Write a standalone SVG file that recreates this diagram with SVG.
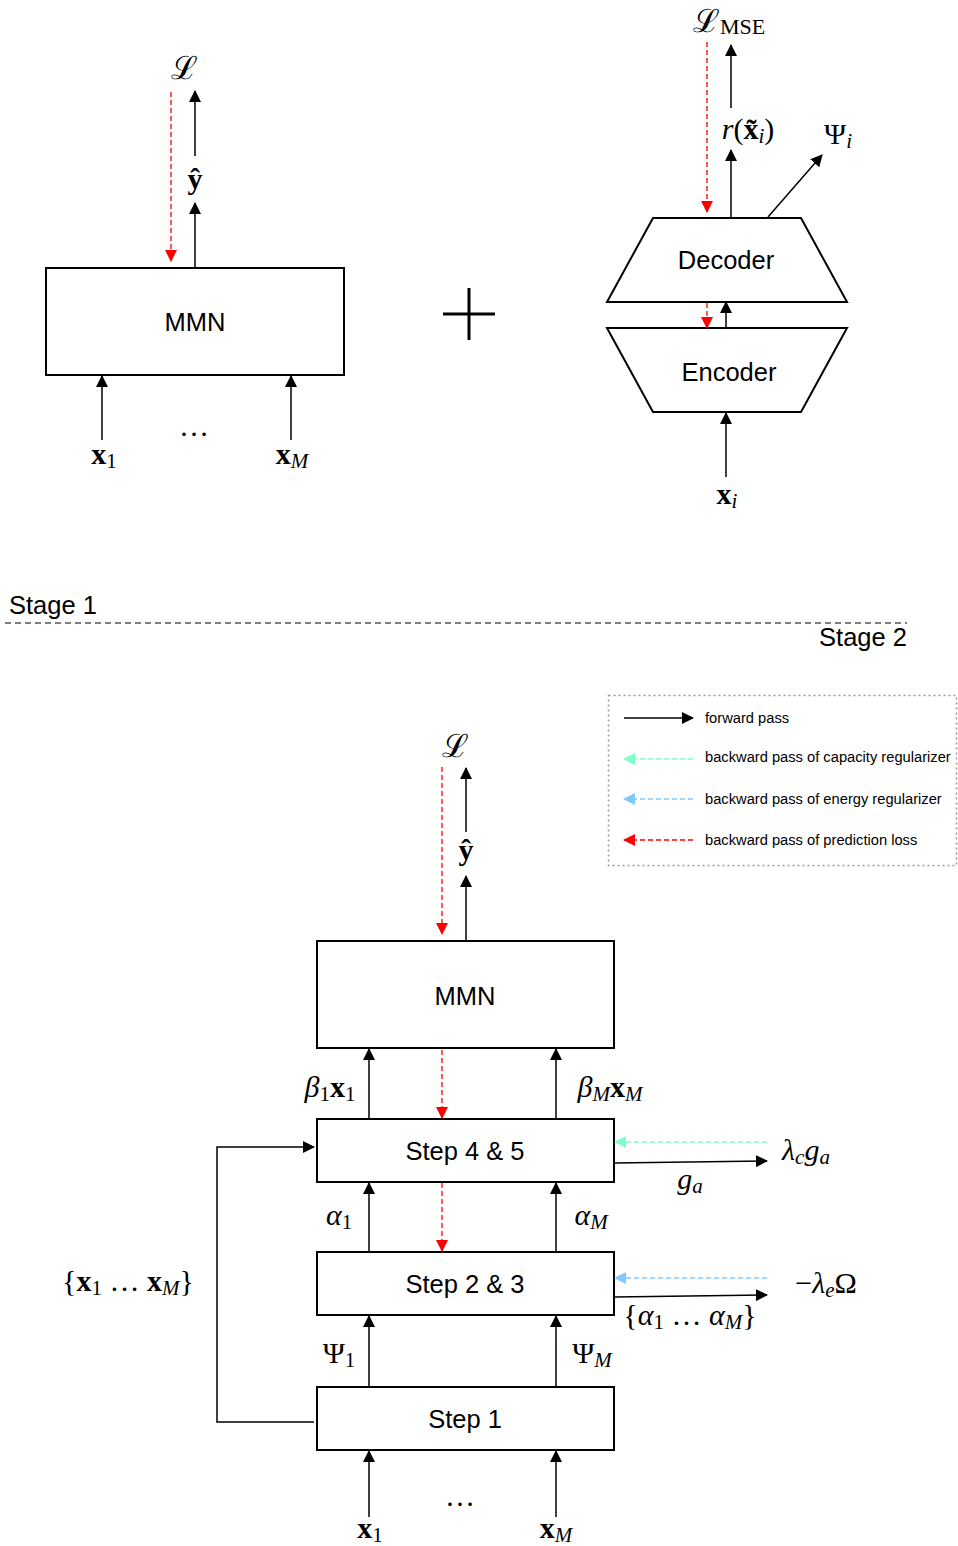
<svg xmlns="http://www.w3.org/2000/svg" width="958" height="1546" viewBox="0 0 958 1546">
<style>
.box{fill:#fff;stroke:#000;stroke-width:2}
.lbl{font-family:"Liberation Sans",Arial,sans-serif;font-size:25.5px;fill:#000}
.math{font-family:"Liberation Serif","DejaVu Serif",serif;font-size:30px;fill:#000}
.sub{font-size:21px}
.it{font-style:italic}
.bf{font-weight:bold}
.cal{font-family:"DejaVu Serif","Liberation Serif",serif;font-style:normal;font-size:32px}
.fw{stroke:#000;stroke-width:1.5;fill:none}
.red{stroke:#ff0000;stroke-width:1.3;stroke-dasharray:5,3;fill:none}
.teal{stroke:#80ffc8;stroke-width:1.3;stroke-dasharray:5,3;fill:none}
.blue{stroke:#80c8ff;stroke-width:1.3;stroke-dasharray:5,3;fill:none}
.leg{font-family:"Liberation Sans",Arial,sans-serif;font-size:14.7px;fill:#000}
</style>
<defs>
<marker id="ab" markerUnits="userSpaceOnUse" markerWidth="12" markerHeight="12" viewBox="0 0 12 12" refX="11" refY="6" orient="auto"><path d="M0,0 L12,6 L0,12 z" fill="#000"/></marker>
<marker id="ar" markerUnits="userSpaceOnUse" markerWidth="12" markerHeight="12" viewBox="0 0 12 12" refX="11" refY="6" orient="auto"><path d="M0,0 L12,6 L0,12 z" fill="#ff0000"/></marker>
<marker id="at" markerUnits="userSpaceOnUse" markerWidth="12" markerHeight="12" viewBox="0 0 12 12" refX="11" refY="6" orient="auto"><path d="M0,0 L12,6 L0,12 z" fill="#80ffc8"/></marker>
<marker id="abl" markerUnits="userSpaceOnUse" markerWidth="12" markerHeight="12" viewBox="0 0 12 12" refX="11" refY="6" orient="auto"><path d="M0,0 L12,6 L0,12 z" fill="#80c8ff"/></marker>
</defs>

<!-- Stage 1 left -->
<g id="mmn1"><rect class="box" x="46" y="268" width="298" height="107"/><text class="lbl" x="195" y="331" text-anchor="middle" font-size="26">MMN</text></g>
<!-- Stage 1 right -->
<g id="decoder"><polygon class="box" points="653,218 801,218 847,302 607,302"/><text class="lbl" x="726" y="269" text-anchor="middle" font-size="26">Decoder</text></g>
<g id="encoder"><polygon class="box" points="607,328 847,328 801,412 653,412"/><text class="lbl" x="729" y="381" text-anchor="middle" font-size="26">Encoder</text></g>
<g id="plus"><path d="M443,314 H495 M469,288 V340" stroke="#000" stroke-width="3"/></g>

<!-- Stage 2 -->
<g id="mmn2"><rect class="box" x="317" y="941" width="297" height="107"/><text class="lbl" x="465" y="1005" text-anchor="middle" font-size="26">MMN</text></g>
<g id="step45"><rect class="box" x="317" y="1119" width="297" height="63"/><text class="lbl" x="465" y="1160" text-anchor="middle">Step 4 &amp; 5</text></g>
<g id="step23"><rect class="box" x="317" y="1252" width="297" height="63"/><text class="lbl" x="465" y="1293" text-anchor="middle">Step 2 &amp; 3</text></g>
<g id="step1"><rect class="box" x="317" y="1387" width="297" height="63"/><text class="lbl" x="465" y="1428" text-anchor="middle">Step 1</text></g>

<g id="legend">
<rect x="608.5" y="695.5" width="348" height="170" fill="none" stroke="#999" stroke-width="1.5" stroke-dasharray="2,3"/>
<line class="fw" x1="624" y1="718" x2="693" y2="718" marker-end="url(#ab)"/>
<text class="leg" x="705" y="723">forward pass</text>
<line class="teal" x1="693" y1="759" x2="624" y2="759" marker-end="url(#at)"/>
<text class="leg" x="705" y="762">backward pass of capacity regularizer</text>
<line class="blue" x1="693" y1="799" x2="624" y2="799" marker-end="url(#abl)"/>
<text class="leg" x="705" y="804">backward pass of energy regularizer</text>
<line class="red" x1="693" y1="840" x2="624" y2="840" marker-end="url(#ar)"/>
<text class="leg" x="705" y="845">backward pass of prediction loss</text>
</g>

<g id="connectors">
<!-- stage1 left -->
<line class="red" x1="171" y1="92" x2="171" y2="261" marker-end="url(#ar)"/>
<line class="fw" x1="195" y1="268" x2="195" y2="203" marker-end="url(#ab)"/>
<line class="fw" x1="195" y1="156" x2="195" y2="91" marker-end="url(#ab)"/>
<line class="fw" x1="102" y1="440" x2="102" y2="376" marker-end="url(#ab)"/>
<line class="fw" x1="291" y1="440" x2="291" y2="376" marker-end="url(#ab)"/>
<!-- stage1 right -->
<line class="red" x1="707" y1="42" x2="707" y2="212" marker-end="url(#ar)"/>
<line class="fw" x1="731" y1="217" x2="731" y2="150" marker-end="url(#ab)"/>
<line class="fw" x1="731" y1="108" x2="731" y2="45" marker-end="url(#ab)"/>
<line class="fw" x1="768" y1="217" x2="822" y2="155" marker-end="url(#ab)"/>
<line class="red" x1="707" y1="303" x2="707" y2="328" marker-end="url(#ar)"/>
<line class="fw" x1="726" y1="327" x2="726" y2="302" marker-end="url(#ab)"/>
<line class="fw" x1="726" y1="477" x2="726" y2="413" marker-end="url(#ab)"/>
<!-- divider -->
<line x1="5" y1="623" x2="907" y2="623" stroke="#000" stroke-width="1.2" stroke-dasharray="6,4"/>
<!-- stage2 -->
<line class="red" x1="442" y1="767" x2="442" y2="934" marker-end="url(#ar)"/>
<line class="fw" x1="466" y1="941" x2="466" y2="876" marker-end="url(#ab)"/>
<line class="fw" x1="466" y1="832" x2="466" y2="768" marker-end="url(#ab)"/>
<line class="fw" x1="369" y1="1119" x2="369" y2="1049" marker-end="url(#ab)"/>
<line class="fw" x1="556" y1="1119" x2="556" y2="1049" marker-end="url(#ab)"/>
<line class="red" x1="442" y1="1050" x2="442" y2="1118" marker-end="url(#ar)"/>
<line class="fw" x1="369" y1="1252" x2="369" y2="1183" marker-end="url(#ab)"/>
<line class="fw" x1="556" y1="1252" x2="556" y2="1183" marker-end="url(#ab)"/>
<line class="red" x1="442" y1="1183" x2="442" y2="1251" marker-end="url(#ar)"/>
<line class="fw" x1="369" y1="1387" x2="369" y2="1316" marker-end="url(#ab)"/>
<line class="fw" x1="556" y1="1387" x2="556" y2="1316" marker-end="url(#ab)"/>
<line class="fw" x1="369" y1="1517" x2="369" y2="1451" marker-end="url(#ab)"/>
<line class="fw" x1="556" y1="1517" x2="556" y2="1451" marker-end="url(#ab)"/>
<polyline class="fw" points="314,1422 217,1422 217,1147 314,1147" marker-end="url(#ab)"/>
<line class="teal" x1="767" y1="1142" x2="615" y2="1142" marker-end="url(#at)"/>
<line class="fw" x1="614" y1="1163" x2="767" y2="1161" marker-end="url(#ab)"/>
<line class="blue" x1="767" y1="1278" x2="615" y2="1278" marker-end="url(#abl)"/>
<line class="fw" x1="614" y1="1297" x2="767" y2="1295" marker-end="url(#ab)"/>
</g>

<g id="labels">
<text class="lbl" x="9" y="614" font-size="21.5">Stage 1</text>
<text class="lbl" x="907" y="646" font-size="21.5" text-anchor="end">Stage 2</text>
<!-- stage1 left -->
<text class="math cal" x="184" y="79" text-anchor="middle">ℒ</text>
<text class="math bf" x="195" y="189" text-anchor="middle">ŷ</text>
<text class="math" x="104" y="464" text-anchor="middle"><tspan class="bf">x</tspan><tspan class="sub" dy="4">1</tspan></text>
<text class="math" x="292" y="464" text-anchor="middle"><tspan class="bf">x</tspan><tspan class="sub it" dy="4">M</tspan></text>
<text class="math" x="194" y="436" text-anchor="middle" font-size="24">…</text>
<!-- stage1 right -->
<text class="math" x="729" y="32" text-anchor="middle"><tspan class="cal">ℒ</tspan><tspan font-size="22" dy="2">MSE</tspan></text>
<text class="math" x="748" y="139" text-anchor="middle"><tspan class="it">r</tspan><tspan>(</tspan><tspan class="bf">x̃</tspan><tspan class="sub it" dy="4">i</tspan><tspan dy="-4">)</tspan></text>
<text class="math" x="838" y="144" text-anchor="middle">Ψ<tspan class="sub it" dy="4">i</tspan></text>
<text class="math" x="727" y="504" text-anchor="middle"><tspan class="bf">x</tspan><tspan class="sub it" dy="4">i</tspan></text>
<!-- stage2 -->
<text class="math cal" x="455" y="757" text-anchor="middle">ℒ</text>
<text class="math bf" x="466" y="860" text-anchor="middle">ŷ</text>
<text class="math" x="330" y="1097" text-anchor="middle"><tspan class="it">β</tspan><tspan class="sub" dy="4">1</tspan><tspan class="bf" dy="-4">x</tspan><tspan class="sub" dy="4">1</tspan></text>
<text class="math" x="610" y="1097" text-anchor="middle"><tspan class="it">β</tspan><tspan class="sub it" dy="4">M</tspan><tspan class="bf" dy="-4">x</tspan><tspan class="sub it" dy="4">M</tspan></text>
<text class="math" x="339" y="1225" text-anchor="middle"><tspan class="it">α</tspan><tspan class="sub" dy="4">1</tspan></text>
<text class="math" x="591" y="1225" text-anchor="middle"><tspan class="it">α</tspan><tspan class="sub it" dy="4">M</tspan></text>
<text class="math" x="339" y="1363" text-anchor="middle">Ψ<tspan class="sub" dy="4">1</tspan></text>
<text class="math" x="592" y="1363" text-anchor="middle">Ψ<tspan class="sub it" dy="4">M</tspan></text>
<text class="math" x="370" y="1538" text-anchor="middle"><tspan class="bf">x</tspan><tspan class="sub" dy="4">1</tspan></text>
<text class="math" x="556" y="1538" text-anchor="middle"><tspan class="bf">x</tspan><tspan class="sub it" dy="4">M</tspan></text>
<text class="math" x="460" y="1506" text-anchor="middle" font-size="24">…</text>
<text class="math" x="128" y="1291" text-anchor="middle">{<tspan class="bf">x</tspan><tspan class="sub" dy="4">1</tspan><tspan dy="-4"> … </tspan><tspan class="bf">x</tspan><tspan class="sub it" dy="4">M</tspan><tspan dy="-4">}</tspan></text>
<text class="math" x="806" y="1160" text-anchor="middle"><tspan class="it">λ</tspan><tspan class="sub it" dy="4">c</tspan><tspan class="it" dy="-4">g</tspan><tspan class="sub it" dy="4">a</tspan></text>
<text class="math" x="690" y="1189" text-anchor="middle"><tspan class="it">g</tspan><tspan class="sub it" dy="4">a</tspan></text>
<text class="math" x="826" y="1293" text-anchor="middle">−<tspan class="it">λ</tspan><tspan class="sub it" dy="4">e</tspan><tspan dy="-4">Ω</tspan></text>
<text class="math" x="690" y="1325" text-anchor="middle">{<tspan class="it">α</tspan><tspan class="sub" dy="4">1</tspan><tspan dy="-4"> … </tspan><tspan class="it">α</tspan><tspan class="sub it" dy="4">M</tspan><tspan dy="-4">}</tspan></text>
</g>
</svg>
